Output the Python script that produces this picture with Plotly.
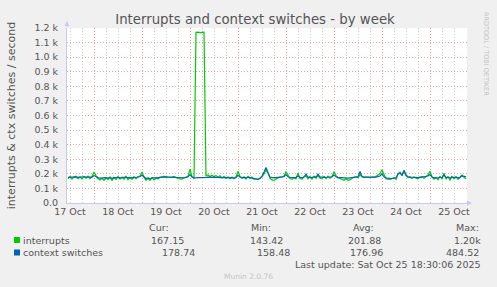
import plotly.graph_objects as go
import pandas as pd

# ---------------- data (hourly samples, 17 Oct 11:00 -> 25 Oct 18:00) ----------------
times = pd.date_range("2025-10-17 11:00", periods=200, freq="h")

interrupts = (
    # 17 Oct 11:00-23:00
    [166, 182, 164, 178, 184, 166, 180, 164, 182, 170, 184, 166, 180]
    # 18 Oct
    + [213, 188, 168, 158, 170, 156, 172, 160, 178, 155, 174, 160, 180, 164, 178, 162, 182, 160, 174, 162, 178, 166, 180, 184]
    # 19 Oct
    + [213, 176, 156, 168, 155, 172, 158, 170, 166, 176, 180, 182, 179, 177, 176, 178, 182, 174, 168, 166, 164, 172, 178, 182]
    # 20 Oct
    + [232, 180, 170, 1170, 1172, 1168, 1170, 1171, 188, 192, 182, 190, 180, 188, 176, 186, 172, 182, 168, 180, 166, 178, 166, 178]
    # 21 Oct
    + [218, 182, 168, 180, 164, 182, 168, 178, 162, 166, 160, 172, 180, 200, 225, 205, 170, 158, 155, 164, 172, 178, 180, 184]
    # 22 Oct
    + [216, 188, 168, 162, 174, 166, 204, 168, 164, 180, 186, 166, 180, 164, 184, 170, 188, 172, 166, 182, 168, 184, 170, 180]
    # 23 Oct
    + [216, 188, 172, 168, 164, 156, 166, 155, 160, 170, 176, 180, 174, 195, 180, 174, 178, 176, 174, 178, 176, 182, 190, 202]
    # 24 Oct
    + [228, 192, 166, 164, 162, 166, 174, 162, 200, 212, 192, 215, 188, 174, 180, 168, 178, 170, 166, 178, 180, 170, 180, 192]
    # 25 Oct 00:00-18:00
    + [218, 178, 164, 176, 160, 182, 166, 204, 164, 180, 158, 182, 166, 180, 162, 178, 192, 176, 167]
)

context_switches = (
    [176, 178, 175, 177, 179, 176, 178, 176, 180, 177, 179, 176, 178]
    + [188, 178, 174, 170, 172, 169, 174, 171, 176, 168, 175, 172, 177, 173, 176, 174, 178, 172, 176, 173, 177, 175, 178, 182]
    + [190, 176, 168, 172, 166, 173, 170, 172, 174, 176, 178, 180, 179, 177, 176, 177, 178, 176, 174, 172, 171, 173, 176, 180]
    + [195, 178, 172, 172, 172, 172, 172, 172, 176, 178, 177, 179, 176, 178, 175, 177, 174, 176, 173, 175, 172, 174, 171, 175]
    + [190, 178, 174, 176, 173, 177, 174, 176, 170, 165, 162, 168, 185, 213, 243, 210, 178, 174, 172, 174, 176, 178, 179, 180]
    + [195, 180, 175, 172, 174, 176, 185, 176, 173, 178, 198, 176, 178, 173, 180, 176, 198, 178, 175, 177, 175, 178, 176, 180]
    + [192, 180, 176, 174, 172, 170, 172, 170, 172, 175, 176, 178, 180, 216, 182, 178, 177, 177, 176, 177, 177, 178, 180, 185]
    + [200, 180, 170, 168, 168, 168, 170, 172, 200, 205, 190, 225, 192, 180, 178, 176, 177, 175, 174, 176, 178, 176, 178, 185]
    + [195, 178, 172, 174, 170, 178, 173, 192, 174, 178, 170, 179, 174, 177, 172, 176, 186, 180, 179]
)

series_names = ["interrupts", "context switches"]
series_colors = ["#00CC00", "#0066B3"]
stat_cur = ["167.15", "178.74"]
stat_min = ["143.42", "158.48"]
stat_avg = ["201.88", "176.96"]
stat_max = ["1.20k", "484.52"]

y_tickvals = [0, 100, 200, 300, 400, 500, 600, 700, 800, 900, 1000, 1100, 1200]
y_ticktext = ["0.0", "0.1 k", "0.2 k", "0.3 k", "0.4 k", "0.5 k", "0.6 k",
              "0.7 k", "0.8 k", "0.9 k", "1.0 k", "1.1 k", "1.2 k"]

x_start = "2025-10-17 10:30"
x_end = "2025-10-25 18:30"

# ---------------- figure ----------------
W, H = 497, 287
L, R, T, B = 67, 30, 28, 84
PW, PH = W - L - R, H - T - B
FONT = "DejaVu Sans"
TXT = "#555555"

def px(x):
    return (x - L) / PW

def py(y):
    return (H - B - y) / PH

fig = go.Figure()
fig.add_trace(go.Scatter(x=times, y=interrupts, mode="lines",
                         line=dict(color=series_colors[0], width=1.2), name=series_names[0]))
fig.add_trace(go.Scatter(x=times, y=context_switches, mode="lines",
                         line=dict(color=series_colors[1], width=1.2), name=series_names[1]))

fig.update_layout(
    width=W, height=H,
    margin=dict(l=L, r=R, t=T, b=B, pad=0),
    paper_bgcolor="#F0F0F0", plot_bgcolor="#FFFFFF",
    showlegend=False,
    font=dict(family=FONT, color=TXT, size=9.5),
    title=dict(text="Interrupts and context switches - by week",
               x=255 / W, xanchor="center", xref="container",
               y=1 - 19 / H, yanchor="middle", yref="container",
               font=dict(family=FONT, size=13.3, color=TXT)),
)

fig.update_xaxes(
    type="date", range=[x_start, x_end],
    tick0="2025-10-17", dtick=86400000, tickformat="%d Oct",
    ticklabelmode="period", ticks="",
    showgrid=True, gridcolor="#E8A0A0", griddash="1px,2px", gridwidth=1,
    minor=dict(dtick=6 * 3600000, tick0="2025-10-17", showgrid=True,
               gridcolor="#D0D0D0", griddash="1px,2px", gridwidth=1),
    showline=True, linecolor="#C8C8F0", linewidth=1,
    zeroline=False, tickfont=dict(size=9.5, color=TXT),
)
fig.update_yaxes(
    range=[0, 1200], tickvals=y_tickvals, ticktext=y_ticktext, ticks="",
    ticklabelstandoff=6,
    showgrid=True, gridcolor="#E8A0A0", griddash="1px,2px", gridwidth=1,
    showline=True, linecolor="#C8C8F0", linewidth=1, zeroline=False,
    tickfont=dict(size=9.5, color=TXT),
    title=dict(text="interrupts & ctx switches / second", standoff=16,
               font=dict(size=11, color=TXT)),
)

ann = []
# axis arrows
ann.append(dict(x=px(472), y=0, xref="paper", yref="paper", ax=-8, ay=0,
                text="", showarrow=True, arrowhead=2, arrowsize=1, arrowwidth=1,
                arrowcolor="#C8C8F0"))
ann.append(dict(x=0, y=py(21), xref="paper", yref="paper", ax=0, ay=8,
                text="", showarrow=True, arrowhead=2, arrowsize=1, arrowwidth=1,
                arrowcolor="#C8C8F0"))
# watermark
ann.append(dict(x=px(486), y=py(54), xref="paper", yref="paper", text="RRDTOOL / TOBI OETIKER",
                textangle=90, showarrow=False, font=dict(size=6.5, color="#C4C4C4"),
                xanchor="center", yanchor="middle"))

def label(x, y, text, anchor="left", size=9.5, color=TXT):
    ann.append(dict(x=px(x), y=py(y), xref="paper", yref="paper", text=text,
                    showarrow=False, xanchor=anchor, yanchor="middle",
                    font=dict(size=size, color=color)))

label(147, 227, "Cur:")
label(249, 227, "Min:")
label(351, 227, "Avg:")
label(454, 227, "Max:")
row_y = [240, 252.5]
cur_r = [185.5, 197]
min_r = [284.5, 291.5]
avg_r = [383, 384.5]
max_r = [482.5, 480.5]
shapes = []
for k in range(2):
    shapes.append(dict(type="rect", xref="paper", yref="paper",
                       x0=px(14), x1=px(20), y0=py(row_y[k] + 3), y1=py(row_y[k] - 3),
                       fillcolor=series_colors[k], line=dict(width=0)))
    label(20.5, row_y[k], series_names[k])
    label(cur_r[k], row_y[k], stat_cur[k], "right")
    label(min_r[k], row_y[k], stat_min[k], "right")
    label(avg_r[k], row_y[k], stat_avg[k], "right")
    label(max_r[k], row_y[k], stat_max[k], "right")
label(482.5, 264, "Last update: Sat Oct 25 18:30:06 2025", "right")
label(248, 276, "Munin 2.0.76", "center", size=7.5, color="#C4C4C4")

fig.update_layout(annotations=ann, shapes=shapes)
fig.write_html("out.html")
